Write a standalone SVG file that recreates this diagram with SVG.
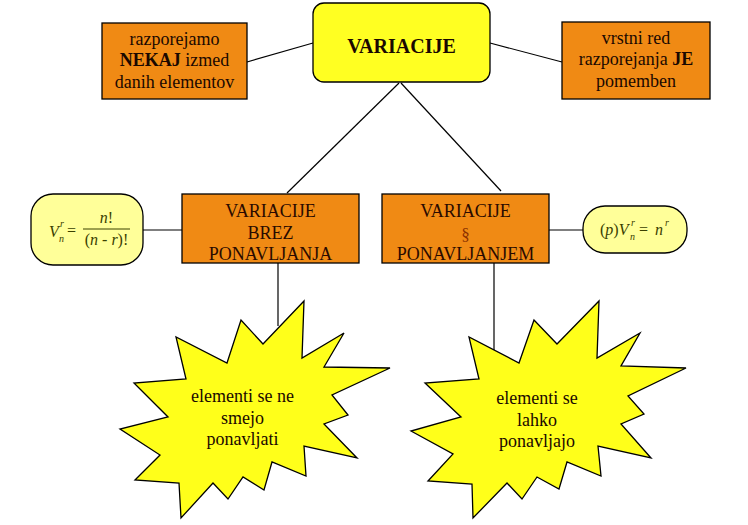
<svg xmlns="http://www.w3.org/2000/svg" width="748" height="525" viewBox="0 0 748 525" font-family="Liberation Serif, Times New Roman, serif">
<style>
.box{fill:#F08A14;stroke:#000;stroke-width:1.3}
.top{fill:#FFFF22;stroke:#000;stroke-width:1.3}
.frm{fill:#FFFF99;stroke:#000;stroke-width:1.3}
.star{fill:#FFFF1A;stroke:#000;stroke-width:1.3;stroke-linejoin:miter}
.t{font-size:18px;fill:#1a0800;text-anchor:middle}
.tb{font-weight:bold}
.f{font-style:italic;font-size:16px;fill:#3a4000}
.fs{font-size:10px}
.c{stroke:#000;stroke-width:1.2;fill:none}
</style>
<rect width="748" height="525" fill="#fff"/>
<g id="connectors">
<line class="c" x1="247" y1="62" x2="313" y2="43"/>
<line class="c" x1="490" y1="43" x2="562" y2="62"/>
<line class="c" x1="399" y1="83" x2="287" y2="193"/>
<line class="c" x1="401" y1="83" x2="501" y2="191"/>
<line class="c" x1="143" y1="230" x2="182" y2="230"/>
<line class="c" x1="549" y1="230" x2="583" y2="230"/>
<line class="c" x1="278" y1="263" x2="278" y2="326"/>
<line class="c" x1="494" y1="263" x2="494" y2="351"/>
</g>
<g id="variacije">
<rect class="top" x="313" y="3" width="177" height="79" rx="11"/>
<text class="t tb" x="401.5" y="53" style="font-size:20px">VARIACIJE</text>
</g>
<g id="nekaj">
<rect class="box" x="102" y="23" width="145" height="76"/>
<text class="t" x="174.5" y="45">razporejamo</text>
<text class="t" x="174.5" y="66"><tspan class="tb">NEKAJ</tspan> izmed</text>
<text class="t" x="174.5" y="88">danih elementov</text>
</g>
<g id="vrstni">
<rect class="box" x="562" y="22" width="148" height="77"/>
<text class="t" x="636" y="44">vrstni red</text>
<text class="t" x="636" y="65">razporejanja  <tspan class="tb">JE</tspan></text>
<text class="t" x="636" y="87">pomemben</text>
</g>
<g id="brez">
<rect class="box" x="182" y="194" width="177" height="69"/>
<text class="t" x="270.5" y="217" style="fill:#2a0a00">VARIACIJE</text>
<text class="t" x="270.5" y="239" style="fill:#2a0a00">BREZ</text>
<text class="t" x="270.5" y="260" style="fill:#2a0a00">PONAVLJANJA</text>
</g>
<g id="s-ponavljanjem">
<rect class="box" x="382" y="194" width="167" height="69"/>
<text class="t" x="465.5" y="217" style="fill:#2a0a00">VARIACIJE</text>
<text class="t" x="465.5" y="240" style="fill:#8a3000;font-size:17px">§</text>
<text class="t" x="465.5" y="260" style="fill:#2a0a00">PONAVLJANJEM</text>
</g>
<g id="formula-brez">
<rect class="frm" x="31" y="194" width="112" height="71" rx="22"/>
<text class="f" x="49" y="237">V</text>
<text class="f fs" x="60" y="227">r</text>
<text class="f fs" x="59" y="242">n</text>
<text class="f" x="67" y="236" style="font-style:normal">=</text>
<line x1="83" y1="229" x2="130" y2="229" stroke="#3a4000" stroke-width="1"/>
<text class="f" x="106.5" y="223" text-anchor="middle">n<tspan style="font-style:normal">!</tspan></text>
<text class="f" x="106.5" y="245" text-anchor="middle"><tspan style="font-style:normal">(</tspan>n <tspan style="font-style:normal">- </tspan>r<tspan style="font-style:normal">)!</tspan></text>
</g>
<g id="formula-s">
<rect class="frm" x="583" y="206" width="104" height="47" rx="22"/>
<text class="f" x="600" y="235"><tspan style="font-style:normal">(</tspan>p<tspan style="font-style:normal">)</tspan>V</text>
<text class="f fs" x="631" y="226">r</text>
<text class="f fs" x="630" y="240">n</text>
<text class="f" x="639" y="235" style="font-style:normal">=</text>
<text class="f" x="655" y="235">n</text>
<text class="f fs" x="665" y="226">r</text>
</g>
<g id="star-ne">
<polygon class="star" points="304,301 302,358 344,333 324,367 390,368 332,395 348,415 324,424 357,458 304,446 306,476 272,462 264,490 243,477 228,499 213,483 181,518 179,483 135,480 160,455 120,429 168,417 134,383 186,379 176,337 227,363 241,320 263,344"/>
<text class="t" x="242.5" y="402">elementi se ne</text>
<text class="t" x="242.5" y="424">smejo</text>
<text class="t" x="242.5" y="445">ponavljati</text>
</g>
<g id="star-lahko">
<polygon class="star" points="599,301 597,358 640,333 621,366 686,368 628,396 644,414 621,424 651,458 598,446 601,476 567,462 559,489 537,477 522,499 507,483 473,518 472,484 428,481 453,454 411,431 461,417 425,383 479,379 469,337 519,363 534,320 557,344"/>
<text class="t" x="537" y="404">elementi se</text>
<text class="t" x="537" y="426">lahko</text>
<text class="t" x="537" y="447">ponavljajo</text>
</g>
</svg>
